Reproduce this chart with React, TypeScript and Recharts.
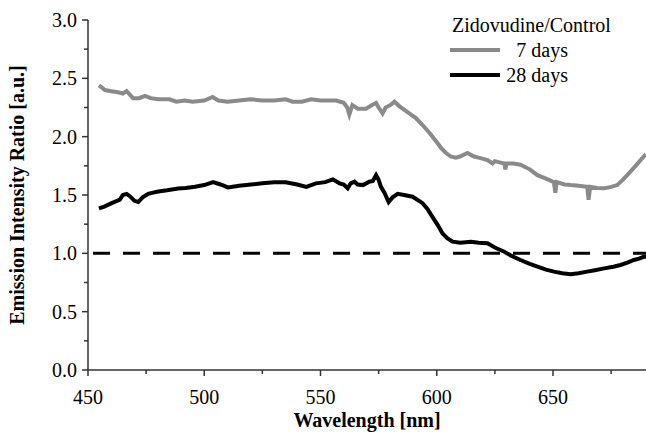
import React from "react";
import { LineChart, Line, XAxis, YAxis, ReferenceLine } from "recharts";

// wavelength [nm], ratio
const days7: [number, number][] = [
  [454.7, 2.44], [456, 2.42], [457.3, 2.4], [460, 2.39], [462.9, 2.38], [465, 2.37],
  [466.6, 2.39], [468, 2.36], [469.3, 2.33], [472, 2.33], [474.5, 2.35], [477, 2.33],
  [480, 2.32], [485, 2.32], [488, 2.3], [491.6, 2.31], [495, 2.3], [500, 2.31],
  [503.6, 2.34], [506, 2.31], [510, 2.3], [515, 2.31], [520, 2.32], [525, 2.31],
  [530, 2.31], [535, 2.32], [538, 2.3], [542, 2.3], [546, 2.32], [550, 2.31],
  [556.7, 2.31], [560, 2.29], [561.5, 2.25], [562.4, 2.19], [563.7, 2.27], [566, 2.24],
  [569.6, 2.24], [572, 2.27], [573.9, 2.29], [575, 2.25], [576.7, 2.2], [578, 2.25],
  [580, 2.27], [581.8, 2.3], [584, 2.26], [588.2, 2.2], [591, 2.16], [593.9, 2.1],
  [597, 2.03], [599.7, 1.96], [602, 1.9], [604, 1.86], [606, 1.83], [608.2, 1.82],
  [610, 1.83], [613.2, 1.86], [616, 1.83], [618, 1.82], [621.8, 1.8], [624, 1.77],
  [625, 1.79], [627, 1.78], [629, 1.77], [629.5, 1.72], [630, 1.77], [633, 1.77],
  [636, 1.76], [640, 1.72], [643.3, 1.67], [647, 1.64], [650.4, 1.61], [651, 1.52],
  [651.6, 1.61], [655, 1.59], [657.6, 1.585], [661, 1.58], [664.7, 1.57], [665.3, 1.46],
  [666, 1.57], [669, 1.56], [672, 1.557], [675, 1.57], [677.6, 1.585], [680, 1.63],
  [683.3, 1.7], [686, 1.76], [689, 1.83], [690, 1.85],
];

const days28: [number, number][] = [
  [454.7, 1.385], [457, 1.4], [460.2, 1.43], [463.7, 1.46], [465, 1.5], [466.6, 1.51],
  [468, 1.49], [470, 1.45], [471.6, 1.44], [473.5, 1.48], [475.9, 1.51], [478, 1.52],
  [480.2, 1.53], [484, 1.54], [488.8, 1.556], [492, 1.56], [496, 1.57], [500, 1.585],
  [503.8, 1.61], [507, 1.59], [510.2, 1.565], [515, 1.58], [520.2, 1.59], [525, 1.6],
  [530, 1.61], [535, 1.61], [540, 1.59], [543.9, 1.57], [548, 1.6], [552, 1.61],
  [555.3, 1.634], [558.2, 1.6], [560, 1.59], [561.7, 1.557], [563, 1.6], [564.6, 1.614],
  [566, 1.59], [568.2, 1.585], [571, 1.614], [572.5, 1.62], [573.9, 1.67], [575, 1.63],
  [576, 1.57], [577.5, 1.52], [579.3, 1.44], [581, 1.48], [583.2, 1.51], [586, 1.5],
  [589.6, 1.485], [593.9, 1.43], [596, 1.38], [598.2, 1.31], [600.5, 1.24], [602.5, 1.17],
  [604.5, 1.13], [606.8, 1.1], [610, 1.09], [614.7, 1.1], [618, 1.09], [621.8, 1.086],
  [625, 1.05], [629, 1.014], [632, 0.98], [636, 0.943], [640, 0.91], [643.3, 0.886],
  [647, 0.86], [650.4, 0.843], [654, 0.83], [657.6, 0.82], [661, 0.83], [664.7, 0.843],
  [668, 0.855], [672, 0.871], [676, 0.885], [679, 0.9], [682, 0.92], [684.8, 0.943],
  [687, 0.955], [689, 0.97], [690, 0.97],
];

const xTicks = [450, 475, 500, 525, 550, 575, 600, 625, 650, 675];
const yTicks = [0, 0.25, 0.5, 0.75, 1, 1.25, 1.5, 1.75, 2, 2.25, 2.5, 2.75, 3];

const FONT = "Tinos, 'Liberation Serif', serif";
const BOLD_FONT = "Liberation Serif";
const AXIS = "#333";

const toRows = (pts: [number, number][]) => pts.map(([wl, r]) => ({ wl, r }));

function XTick({ x, y, payload }: any) {
  const major = payload.value % 50 === 0;
  return (
    <g>
      <line x1={x} x2={x} y1={y} y2={y + (major ? 6 : 4)} stroke={AXIS} strokeWidth={1.5} />
      {major && (
        <text x={x} y={y + 34} textAnchor="middle" fontSize={20} fontWeight="normal" fontFamily={FONT}>
          {payload.value}
        </text>
      )}
    </g>
  );
}

function YTick({ x, y, payload }: any) {
  const major = Math.abs(payload.value * 2 - Math.round(payload.value * 2)) < 1e-6;
  return (
    <g>
      <line x1={x - (major ? 6 : 4)} x2={x} y1={y} y2={y} stroke={AXIS} strokeWidth={1.5} />
      {major && (
        <text x={x - 11} y={y + 7} textAnchor="end" fontSize={20} fontWeight="normal" fontFamily={FONT}>
          {payload.value.toFixed(1)}
        </text>
      )}
    </g>
  );
}

const legendText: React.CSSProperties = {
  position: "absolute",
  fontFamily: FONT,
  fontSize: 20,
  lineHeight: "20px",
  whiteSpace: "nowrap",
  color: "#000",
};

export default function App() {
  return (
    <div style={{ position: "absolute", left: 0, top: 0, width: 646, height: 438, background: "#fff" }}>
      <LineChart width={646} height={438} margin={{ top: 20, right: 0, bottom: 0, left: 0 }}>
        <XAxis
          type="number"
          dataKey="wl"
          domain={[450, 690]}
          ticks={xTicks}
          interval={0}
          height={68}
          tickSize={0}
          tickMargin={0}
          tick={<XTick />}
          stroke={AXIS}
          strokeWidth={1.5}
          allowDataOverflow
          label={{
            content: ({ viewBox }: any) => (
              <text
                x={viewBox.x + viewBox.width / 2}
                y={427}
                textAnchor="middle"
                fontSize={20}
                fontWeight="bold"
                fontFamily={BOLD_FONT}
              >
                Wavelength [nm]
              </text>
            ),
          }}
        />
        <YAxis
          type="number"
          domain={[0, 3]}
          ticks={yTicks}
          interval={0}
          width={88}
          tickSize={0}
          tickMargin={0}
          tick={<YTick />}
          stroke={AXIS}
          strokeWidth={1.5}
          label={{
            content: ({ viewBox }: any) => {
              const cy = viewBox.y + viewBox.height / 2;
              return (
                <text
                  x={24}
                  y={cy}
                  transform={`rotate(-90 24 ${cy})`}
                  textAnchor="middle"
                  fontSize={20}
                  fontWeight="bold"
                  fontFamily={BOLD_FONT}
                >
                  Emission Intensity Ratio [a.u.]
                </text>
              );
            },
          }}
        />
        <ReferenceLine y={1} stroke="#000" strokeWidth={3} strokeDasharray="17 13" strokeDashoffset={-5} />
        <Line
          data={toRows(days7)}
          dataKey="r"
          type="linear"
          stroke="#8a8a8a"
          strokeWidth={4}
          dot={false}
          isAnimationActive={false}
        />
        <Line
          data={toRows(days28)}
          dataKey="r"
          type="linear"
          stroke="#000"
          strokeWidth={4}
          dot={false}
          isAnimationActive={false}
        />
      </LineChart>
      {/* legend */}
      <div style={{ ...legendText, left: 452, top: 15 }}>Zidovudine/Control</div>
      <div style={{ position: "absolute", left: 450, top: 48, width: 50, height: 4, background: "#8a8a8a" }} />
      <div style={{ ...legendText, right: 78, top: 40 }}>7 days</div>
      <div style={{ position: "absolute", left: 450, top: 73, width: 50, height: 4, background: "#000" }} />
      <div style={{ ...legendText, right: 78, top: 65 }}>28 days</div>
    </div>
  );
}
